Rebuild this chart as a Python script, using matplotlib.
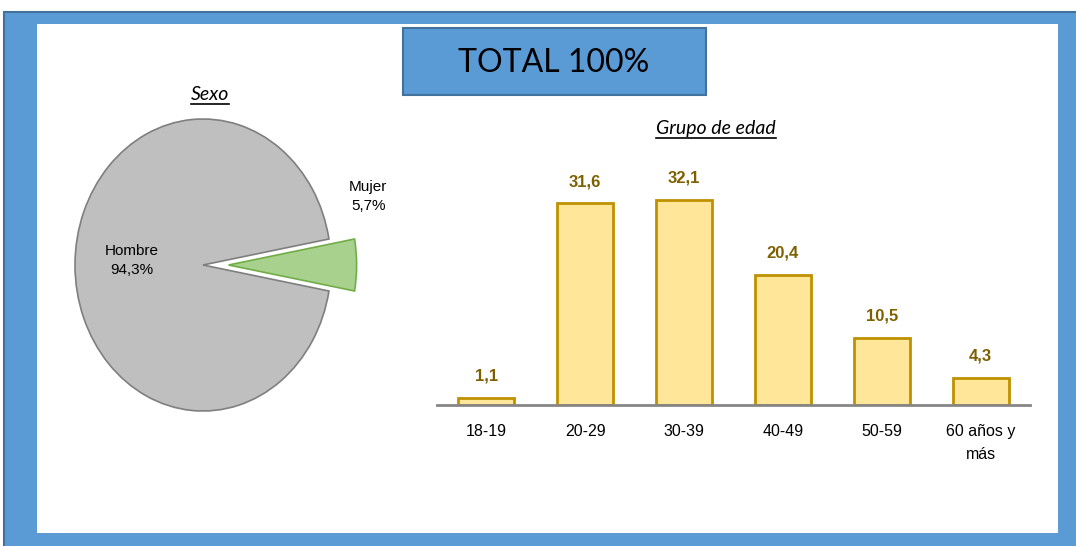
import matplotlib
matplotlib.use('Agg')
import matplotlib.pyplot as plt
from matplotlib.patches import Rectangle
from matplotlib.lines import Line2D

# datos
sexo_labels = ['Hombre', 'Mujer']
sexo_vals = [94.3, 5.7]
edad_labels = ['18-19', '20-29', '30-39', '40-49', '50-59', '60 años y\nmás']
edad_vals = [1.1, 31.6, 32.1, 20.4, 10.5, 4.3]

W, H = 1076, 546
fig = plt.figure(figsize=(W / 100, H / 100), dpi=100)
fig.patch.set_facecolor('white')

def fx(x):
    return x / W

def fy(y):
    return 1 - y / H

NARROW = ['Liberation Sans Narrow', 'Liberation Sans', 'DejaVu Sans']
TITLE = ['Lato', 'DejaVu Sans']

# marco azul y fondo blanco
fig.patches.append(Rectangle((fx(4), fy(560)), fx(1090), 548 / H, transform=fig.transFigure,
                             facecolor='#5B9BD5', edgecolor='#41719C', lw=1.5, zorder=0))
fig.patches.append(Rectangle((fx(37), fy(533)), fx(1058 - 37), (533 - 24) / H, transform=fig.transFigure,
                             facecolor='white', edgecolor='none', zorder=0.5))

# caja de titulo
fig.patches.append(Rectangle((fx(403), fy(95)), fx(706 - 403), (95 - 28) / H, transform=fig.transFigure,
                             facecolor='#5B9BD5', edgecolor='#41719C', lw=1.5, zorder=1))
fig.text(fx(554), fy(63), 'TOTAL 100%', ha='center', va='center', fontsize=23,
         family=TITLE, color='black', zorder=2)

# ---- pie ----
cx, cy, rx, ry = 203, 265, 128, 146
axp = fig.add_axes([fx(cx - 1.4 * rx), fy(cy + 1.1 * ry), 2.8 * rx / W, 2.2 * ry / H])
axp.set_zorder(3)
wedges, _ = axp.pie(sexo_vals, startangle=360 * sexo_vals[1] / 200, counterclock=True,
                    colors=['#BFBFBF', '#A9D18E'], explode=[0, 0.2],
                    wedgeprops=dict(linewidth=1.2))
wedges[0].set_edgecolor('#7F7F7F')
wedges[1].set_edgecolor('#70AD47')
axp.set_aspect('auto')
axp.set_xlim(-1.4, 1.4)
axp.set_ylim(-1.1, 1.1)
axp.axis('off')
axp.text(-0.555, 0.03, '%s\n%s%%' % (sexo_labels[0], str(sexo_vals[0]).replace('.', ',')),
         ha='center', va='center', fontsize=11, family=NARROW, linespacing=1.4)
axp.text(1.29, 0.47, '%s\n%s%%' % (sexo_labels[1], str(sexo_vals[1]).replace('.', ',')),
         ha='center', va='center', fontsize=11, family=NARROW, linespacing=1.4)

# ---- barras ----
axb = fig.add_axes([fx(437), fy(405), fx(1030 - 437), (405 - 120) / H])
axb.set_zorder(3)
xs = range(len(edad_vals))
axb.bar(xs, edad_vals, width=0.565, color='#FFE699', edgecolor='#BF9000', linewidth=2)
for x, v in zip(xs, edad_vals):
    axb.text(x, v + 2.2, str(v).replace('.', ','), ha='center', va='bottom', fontsize=12,
             fontweight='bold', color='#7F6000', family=NARROW)
axb.set_xlim(-0.5, len(edad_vals) - 0.5)
axb.set_ylim(0, 285 / 6.39)
axb.set_xticks(list(xs))
axb.set_xticklabels(edad_labels, fontsize=11.5, family=NARROW, linespacing=1.6)
axb.tick_params(axis='x', length=0, pad=14)
axb.set_yticks([])
for s in ['top', 'right', 'left']:
    axb.spines[s].set_visible(False)
axb.spines['bottom'].set_color('#868686')
axb.spines['bottom'].set_linewidth(2)
axb.patch.set_alpha(0)

# subtitulos subrayados
subs = [fig.text(fx(210), fy(94), 'Sexo', ha='center', va='center', fontsize=14,
                 style='italic', family=TITLE),
        fig.text(fx(716), fy(128), 'Grupo de edad', ha='center', va='center', fontsize=14,
                 style='italic', family=TITLE)]
fig.canvas.draw()
for t in subs:
    bb = t.get_window_extent()
    yl = (bb.y0 - 1) / H
    fig.lines.append(Line2D([bb.x0 / W, bb.x1 / W], [yl, yl], transform=fig.transFigure,
                            color='black', lw=1.2))

fig.savefig('out.png', dpi=100)
